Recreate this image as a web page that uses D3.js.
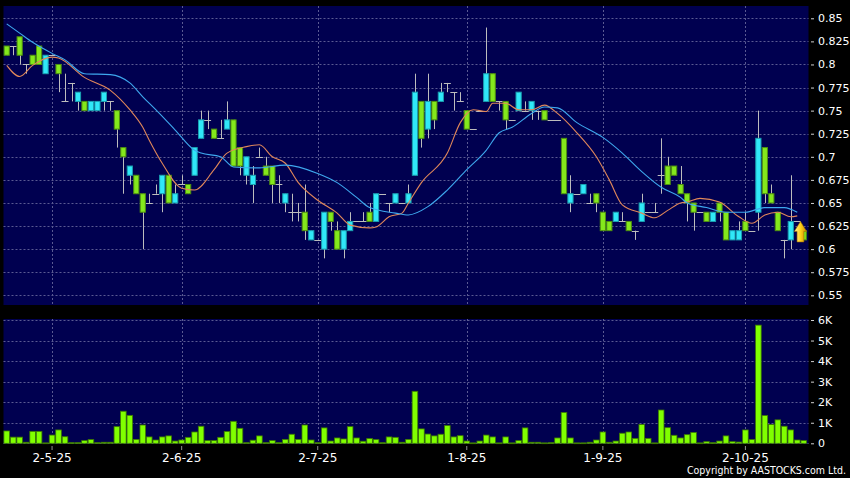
<!DOCTYPE html>
<html><head><meta charset="utf-8">
<script src="https://cdn.jsdelivr.net/npm/d3@7/dist/d3.min.js"></script>
<style>html,body{margin:0;padding:0;background:#000;}svg{display:block;}</style>
</head><body>
<svg id="c" width="850" height="478"></svg>
<script>
// ---- data (prices in HKD, volume in thousands) ----
const open  = [.82,.82,.83,.80,.81,.82,.79,.81,.80,.76,.78,.76,.76,.75,.75,.76,.76,.75,.71,.68,
               .68,.66,.65,.66,.66,.68,.65,.67,.67,.68,.72,.74,.73,.72,.73,.74,.71,.68,.67,.70,
               .69,.69,.67,.65,.64,.64,.64,.61,.61,.60,.64,.62,.60,.62,.63,.63,.64,.63,.66,.65,
               .65,.65,.65,.68,.76,.73,.76,.76,.78,.77,.76,.75,.73,.75,.76,.79,.76,.76,.74,.75,
               .75,.75,.75,.75,.74,.74,.72,.65,.66,.66,.65,.66,.64,.63,.63,.63,.63,.62,.63,.64,
               .64,.68,.69,.69,.67,.66,.65,.64,.64,.63,.65,.64,.61,.61,.63,.62,.64,.71,.66,.64,
               .61,.61,.63,.62];
const high  = [.82,.82,.83,.80,.81,.82,.81,.81,.80,.79,.78,.77,.76,.76,.76,.77,.76,.75,.71,.69,
               .68,.66,.66,.67,.68,.68,.67,.68,.67,.71,.75,.75,.73,.74,.76,.74,.71,.70,.69,.71,
               .70,.69,.68,.66,.66,.65,.67,.62,.61,.64,.64,.63,.62,.64,.63,.64,.65,.66,.66,.65,
               .66,.65,.67,.79,.76,.79,.76,.78,.78,.77,.77,.75,.73,.75,.84,.79,.76,.76,.74,.77,
               .76,.76,.75,.75,.74,.74,.72,.68,.66,.67,.66,.66,.64,.63,.64,.64,.63,.62,.66,.64,
               .65,.72,.70,.69,.69,.66,.65,.64,.64,.64,.65,.64,.62,.63,.64,.62,.75,.71,.67,.64,
               .61,.68,.63,.62];
const low   = [.81,.81,.80,.79,.80,.80,.79,.81,.77,.76,.76,.75,.75,.75,.75,.75,.75,.71,.66,.67,
               .66,.60,.65,.66,.64,.65,.65,.67,.66,.68,.72,.73,.72,.72,.73,.69,.68,.67,.65,.70,
               .68,.65,.65,.64,.63,.63,.61,.61,.61,.59,.62,.60,.59,.62,.63,.63,.63,.63,.66,.64,
               .65,.65,.65,.68,.71,.72,.73,.76,.77,.75,.76,.73,.73,.75,.76,.76,.75,.73,.74,.75,
               .75,.74,.74,.74,.74,.74,.66,.64,.66,.66,.65,.64,.62,.62,.63,.63,.62,.61,.63,.64,
               .64,.66,.67,.68,.66,.63,.62,.64,.63,.63,.63,.61,.61,.61,.62,.62,.62,.65,.65,.62,
               .59,.60,.63,.61];
const close = [.81,.82,.81,.80,.80,.80,.81,.81,.79,.76,.78,.77,.75,.76,.76,.77,.76,.73,.70,.69,
               .66,.64,.65,.66,.68,.65,.66,.67,.66,.71,.74,.74,.72,.72,.74,.69,.69,.70,.68,.70,
               .68,.67,.67,.66,.64,.64,.62,.62,.61,.64,.63,.60,.62,.63,.63,.63,.63,.66,.66,.65,
               .66,.65,.66,.77,.72,.76,.74,.77,.78,.77,.76,.73,.73,.75,.79,.76,.76,.74,.74,.77,
               .75,.76,.75,.74,.74,.74,.66,.66,.66,.67,.65,.65,.62,.62,.64,.63,.62,.62,.65,.64,
               .64,.68,.67,.68,.66,.65,.64,.64,.63,.64,.64,.61,.62,.62,.62,.62,.72,.66,.65,.62,
               .61,.63,.63,.61];
const volK  = [0.60,0.30,0.30,0.05,0.58,0.58,0.02,0.40,0.65,0.32,0.03,0.03,0.13,0.18,0.03,0.05,0.05,0.81,1.56,1.36,
               0.19,0.89,0.31,0.16,0.31,0.36,0.11,0.16,0.29,0.55,0.83,0.13,0.13,0.29,0.57,1.07,0.73,0.03,0.15,0.36,
               0.03,0.13,0.03,0.19,0.44,0.19,0.89,0.16,0.03,0.75,0.11,0.26,0.21,0.81,0.26,0.10,0.23,0.18,0.03,0.31,
               0.29,0.05,0.19,2.53,0.70,0.45,0.36,0.44,0.86,0.31,0.37,0.11,0.02,0.11,0.40,0.31,0.02,0.31,0.02,0.13,
               0.75,0.05,0.05,0.02,0.03,0.26,1.50,0.26,0.02,0.02,0.05,0.16,0.55,0.05,0.11,0.49,0.55,0.24,0.91,0.24,
               0.02,1.62,0.76,0.39,0.26,0.42,0.53,0.02,0.08,0.03,0.11,0.36,0.08,0.06,0.65,0.18,5.75,1.35,0.91,1.14,
               0.83,0.65,0.16,0.13];
const maShort = [[0,.799],[2,.787],[4,.799],[7,.808],[8,.807],[12,.786],[16,.772],[19,.751],[21,.732],[22,.718],
                 [24,.693],[27,.666],[29,.664],[32,.686],[34,.704],[37,.711],[39,.713],[41,.700],[43,.693],[45,.672],
                 [48,.653],[51,.639],[53,.626],[56,.623],[57,.624],[59,.635],[61,.639],[62,.650],[64,.672],[68,.704],
                 [70,.737],[72,.751],[74,.749],[75,.758],[77,.758],[79,.751],[81,.751],[83,.756],[85,.747],[88,.726],
                 [91,.700],[93,.675],[95,.648],[98,.639],[100,.634],[102,.642],[104,.650],[105,.651],[107,.655],[110,.651],
                 [113,.635],[115,.628],[117,.637],[119,.640],[121,.635],[122,.636]];
const maLong  = [[0,.844],[2,.834],[4,.824],[7,.812],[9,.805],[12,.790],[16,.789],[19,.780],[21,.765],[23,.751],
                 [26,.729],[29,.707],[30,.704],[33,.700],[35,.689],[39,.688],[43,.691],[48,.682],[51,.672],[54,.656],
                 [56,.645],[60,.639],[62,.637],[65,.646],[68,.664],[71,.686],[74,.707],[76,.726],[78,.732],[81,.747],
                 [83,.754],[85,.753],[88,.737],[92,.721],[95,.704],[98,.684],[101,.667],[104,.656],[105,.650],[108,.645],
                 [111,.640],[114,.640],[117,.645],[120,.645],[122,.640]];
const priceTicks = [0.55,0.575,0.6,0.625,0.65,0.675,0.7,0.725,0.75,0.775,0.8,0.825,0.85];
const volTicks = [0,1,2,3,4,5,6];
const dateTickIdx = [7,27,48,71,92,114];
const dateTickLabels = ["2-5-25","2-6-25","2-7-25","1-8-25","1-9-25","2-10-25"];
const arrowIdx = 122;

// ---- drawing ----
const N = close.length;
const svg = d3.select("#c");
const L = 3.5, R = 808.5;
const x = d3.scaleBand().domain(d3.range(N)).range([3.46, 3.46 + N * 6.48]).padding(0);
const xc = i => x(i) + x.bandwidth() / 2;
const y = d3.scaleLinear().domain([0.55, 0.85]).range([295.3, 18.3]);
const yv = d3.scaleLinear().domain([0, 6]).range([443.3, 320]);

svg.append("rect").attr("width", 850).attr("height", 478).attr("fill", "#000");
const navy = "#000050";
svg.append("rect").attr("x", L).attr("y", 6).attr("width", R - L).attr("height", 299).attr("fill", navy);
svg.append("rect").attr("x", L).attr("y", 319).attr("width", R - L).attr("height", 125).attr("fill", navy);

const gridCol = "#5a5a92";
const g = svg.append("g").attr("stroke", gridCol).attr("stroke-width", 1).attr("stroke-dasharray", "2,2");
priceTicks.forEach(t => g.append("line").attr("x1", L).attr("x2", R).attr("y1", Math.round(y(t)) + 0.5).attr("y2", Math.round(y(t)) + 0.5));
volTicks.forEach(t => g.append("line").attr("x1", L).attr("x2", R).attr("y1", Math.round(yv(t)) + 0.5).attr("y2", Math.round(yv(t)) + 0.5));
dateTickIdx.forEach(i => {
  const xx = Math.round(xc(i)) + 0.5;
  g.append("line").attr("x1", xx).attr("x2", xx).attr("y1", 6).attr("y2", 305);
  g.append("line").attr("x1", xx).attr("x2", xx).attr("y1", 319).attr("y2", 444);
});

// volume bars
svg.append("g").selectAll("rect").data(volK).join("rect")
  .attr("x", (d, i) => xc(i) - 2.8).attr("width", 5.6)
  .attr("y", d => yv(d)).attr("height", d => Math.max(0.8, yv(0) - yv(d)))
  .attr("fill", "#80ff00").attr("stroke", "#3d7a00").attr("stroke-width", 0.8);

// wicks
const wickCol = "#bdbdbd";
svg.append("g").selectAll("line").data(d3.range(N).filter(i => high[i] > low[i])).join("line")
  .attr("x1", i => Math.round(xc(i)) + 0.5).attr("x2", i => Math.round(xc(i)) + 0.5)
  .attr("y1", i => y(high[i])).attr("y2", i => y(low[i]))
  .attr("stroke", wickCol).attr("stroke-width", 1);
// doji
svg.append("g").selectAll("line").data(d3.range(N).filter(i => open[i] === close[i])).join("line")
  .attr("x1", i => xc(i) - 3.5).attr("x2", i => xc(i) + 3.5)
  .attr("y1", i => Math.round(y(close[i])) + 0.5).attr("y2", i => Math.round(y(close[i])) + 0.5)
  .attr("stroke", wickCol).attr("stroke-width", 1);
// bodies
svg.append("g").selectAll("rect").data(d3.range(N).filter(i => open[i] !== close[i])).join("rect")
  .attr("x", i => xc(i) - 2.6).attr("width", 5.2)
  .attr("y", i => y(Math.max(open[i], close[i])))
  .attr("height", i => Math.abs(y(open[i]) - y(close[i])))
  .attr("fill", i => close[i] > open[i] ? "#30e8f8" : "#84e81c")
  .attr("stroke", i => close[i] > open[i] ? "#1a9fb0" : "#4e8f10")
  .attr("stroke-width", 1);

// moving averages
const line = d3.line().x(d => xc(d[0])).y(d => y(d[1])).curve(d3.curveMonotoneX);
svg.append("path").attr("d", line(maShort)).attr("fill", "none").attr("stroke", "#e0875a").attr("stroke-width", 1.1);
svg.append("path").attr("d", line(maLong)).attr("fill", "none").attr("stroke", "#3ea8ee").attr("stroke-width", 1.1);

// last-price arrow
const defs = svg.append("defs");
const gr = defs.append("linearGradient").attr("id", "ag").attr("x1", 0).attr("x2", 1).attr("y1", 0).attr("y2", 0);
gr.append("stop").attr("offset", "0").attr("stop-color", "#fff2a0");
gr.append("stop").attr("offset", "0.5").attr("stop-color", "#ffd21a");
gr.append("stop").attr("offset", "1").attr("stop-color", "#c98a00");
const ax = xc(arrowIdx) + 3.2, ay = y(close[arrowIdx]);
svg.append("path")
  .attr("d", `M${ax},${ay} L${ax + 6.2},${ay + 10} L${ax + 3.4},${ay + 10} L${ax + 3.4},${ay + 20.5} L${ax - 3.4},${ay + 20.5} L${ax - 3.4},${ay + 10} L${ax - 6.2},${ay + 10} Z`)
  .attr("fill", "url(#ag)").attr("stroke", "#a06a00").attr("stroke-width", 0.6);

// axes
const font = "'DejaVu Sans', Verdana, sans-serif";
function styleAxis(sel, size) {
  sel.select(".domain").remove();
  sel.selectAll(".tick line").attr("stroke", "#d0d0d0");
  sel.selectAll(".tick text").attr("fill", "#ffffff").attr("font-size", size).attr("font-family", font);
}
svg.append("g").attr("transform", "translate(811,0)")
  .call(d3.axisRight(y).tickValues(priceTicks).tickSize(3).tickPadding(4).tickFormat(d => String(d)))
  .call(s => styleAxis(s, 11));
svg.append("g").attr("transform", "translate(811,0)")
  .call(d3.axisRight(yv).tickValues(volTicks).tickSize(3).tickPadding(4).tickFormat(d => d === 0 ? "0" : d + "K"))
  .call(s => styleAxis(s, 11));
svg.append("g").attr("transform", "translate(0,446)")
  .call(d3.axisBottom(x).tickValues(dateTickIdx).tickSize(4).tickPadding(3).tickFormat((d, i) => dateTickLabels[i]))
  .call(s => { styleAxis(s, 12); s.selectAll(".tick line").attr("stroke", "#909090"); });

svg.append("text").attr("x", 846).attr("y", 473.5).attr("text-anchor", "end")
  .attr("fill", "#ffffff").attr("font-size", 10).attr("font-family", font)
  .attr("textLength", 159).attr("lengthAdjust", "spacingAndGlyphs")
  .text("Copyright by AASTOCKS.com Ltd.");
</script>
</body></html>
